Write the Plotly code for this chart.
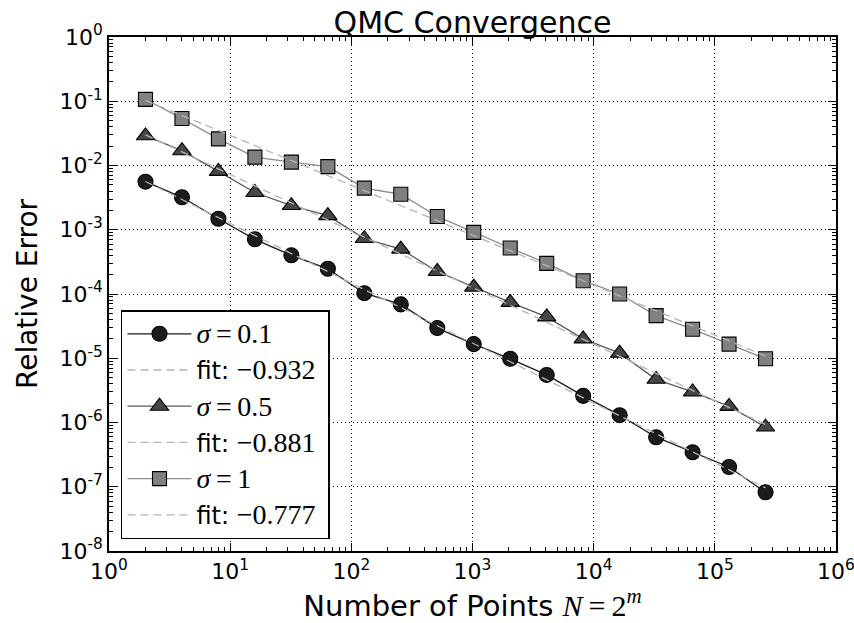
import numpy as np
import plotly.graph_objects as go

# ---------------- data ----------------
N_POINTS = [2, 4, 8, 16, 32, 64, 128, 256, 512, 1024, 2048, 4096, 8192,
            16384, 32768, 65536, 131072, 262144]

ERR_S01 = [5.6e-3, 3.2e-3, 1.48e-3, 7.1e-4, 4.0e-4, 2.47e-4, 1.03e-4, 6.9e-5,
           2.95e-5, 1.66e-5, 9.8e-6, 5.5e-6, 2.6e-6, 1.3e-6, 5.9e-7, 3.45e-7,
           2.03e-7, 8.2e-8]
ERR_S05 = [2.9e-2, 1.7e-2, 8.1e-3, 3.8e-3, 2.38e-3, 1.66e-3, 7.3e-4, 5.0e-4,
           2.24e-4, 1.28e-4, 7.4e-5, 4.4e-5, 2.0e-5, 1.2e-5, 4.7e-6, 3.0e-6,
           1.78e-6, 8.5e-7]
ERR_S1 = [0.107, 5.4e-2, 2.6e-2, 1.35e-2, 1.13e-2, 9.6e-3, 4.45e-3, 3.57e-3,
          1.61e-3, 9.1e-4, 5.2e-4, 3.0e-4, 1.61e-4, 1.0e-4, 4.6e-5, 2.83e-5,
          1.66e-5, 9.8e-6]

SIGMA_LABELS = ["0.1", "0.5", "1"]
FIT_SLOPES = [-0.932, -0.881, -0.777]

X_TICK_VALS = [1e0, 1e1, 1e2, 1e3, 1e4, 1e5, 1e6]
X_TICK_TEXT = ["10<sup>0</sup>", "10<sup>1</sup>", "10<sup>2</sup>", "10<sup>3</sup>",
               "10<sup>4</sup>", "10<sup>5</sup>", "10<sup>6</sup>"]
Y_TICK_VALS = [1e-8, 1e-7, 1e-6, 1e-5, 1e-4, 1e-3, 1e-2, 1e-1, 1e0]
Y_TICK_TEXT = ["10<sup>-8</sup>", "10<sup>-7</sup>", "10<sup>-6</sup>", "10<sup>-5</sup>",
               "10<sup>-4</sup>", "10<sup>-3</sup>", "10<sup>-2</sup>", "10<sup>-1</sup>",
               "10<sup>0</sup>"]

# ---------------- styles ----------------
SERIES = [ERR_S01, ERR_S05, ERR_S1]
SYMBOLS = ["circle", "triangle-up", "square"]
FILLS = ["#1c1c1c", "#464646", "#808080"]
LINES = ["#1c1c1c", "#5a5a5a", "#8c8c8c"]
SIZES = [15, 16, 14]
FIT_COLOR = "#b4b4b4"
SERIF = "Liberation Serif"
SANS = "DejaVu Sans"
MATH = f"font-family:{SERIF};font-size:28px"
TS = "\u2009"  # thin space

fig = go.Figure()
logx = np.log10(np.array(N_POINTS, dtype=float))
for i, ys in enumerate(SERIES):
    fig.add_trace(go.Scatter(
        x=N_POINTS, y=ys, mode="lines+markers",
        name=f"<span style='{MATH}'><i>σ</i>{TS}={TS}{SIGMA_LABELS[i]}</span>",
        legendgroup=f"d{i}",
        line=dict(color=LINES[i], width=1.3),
        marker=dict(symbol=SYMBOLS[i], size=SIZES[i], color=FILLS[i],
                    line=dict(color="#000000", width=1.1)),
    ))
    # least-squares intercept for the stated slope
    logy = np.log10(np.array(ys))
    b = logy.mean() - FIT_SLOPES[i] * logx.mean()
    fit_y = 10 ** (b + FIT_SLOPES[i] * logx)
    fig.add_trace(go.Scatter(
        x=N_POINTS, y=fit_y, mode="lines",
        name=f"fit: <span style='{MATH}'>−{abs(FIT_SLOPES[i]):.3f}</span>&nbsp;",
        legendgroup=f"f{i}",
        line=dict(color=FIT_COLOR, width=1.3, dash="8px,5px"),
    ))

common = dict(
    type="log", showline=True, linecolor="#000000", linewidth=1.5, mirror="allticks",
    ticks="inside", ticklen=8, tickwidth=1, tickcolor="#000000",
    showgrid=True, gridcolor="#000000", gridwidth=1, griddash="1px,3px",
    zeroline=False, tickmode="array", ticklabeloverflow="allow", automargin=False,
    tickfont=dict(family=SANS, size=22, color="#000000"),
    minor=dict(ticks="inside", ticklen=4, tickwidth=1, tickcolor="#000000", showgrid=False,
               dtick="D1"),
)

fig.update_xaxes(**common, range=[-0.0001, 6.0001], tickvals=X_TICK_VALS, ticktext=X_TICK_TEXT,
                 title=dict(text=f"Number of Points <span style='font-family:{SERIF};font-size:30px'><i>N</i>{TS}={TS}2<sup><i>m</i></sup></span>",
                            font=dict(family=SANS, size=29, color="#000000"), standoff=2))
fig.update_yaxes(**common, range=[-8.0001, 0.0001], tickvals=Y_TICK_VALS, ticktext=Y_TICK_TEXT,
                 title=dict(text="Relative Error",
                            font=dict(family=SANS, size=28, color="#000000"), standoff=14))

fig.update_layout(
    width=854, height=623,
    margin=dict(l=109, r=18, t=37, b=72, autoexpand=False),
    paper_bgcolor="white", plot_bgcolor="white",
    title=dict(text="QMC Convergence", x=0.5, xref="paper", y=1, yref="paper",
               yanchor="bottom", xanchor="center", pad=dict(b=4),
               font=dict(family=SANS, size=30, color="#000000")),
    legend=dict(x=0.0165, y=0.023, xanchor="left", yanchor="bottom",
                bgcolor="white", bordercolor="#000000", borderwidth=1.5,
                font=dict(family=SANS, size=24, color="#000000"),
                tracegroupgap=2, itemwidth=64),
    showlegend=True,
)

fig.write_html("out.html")
